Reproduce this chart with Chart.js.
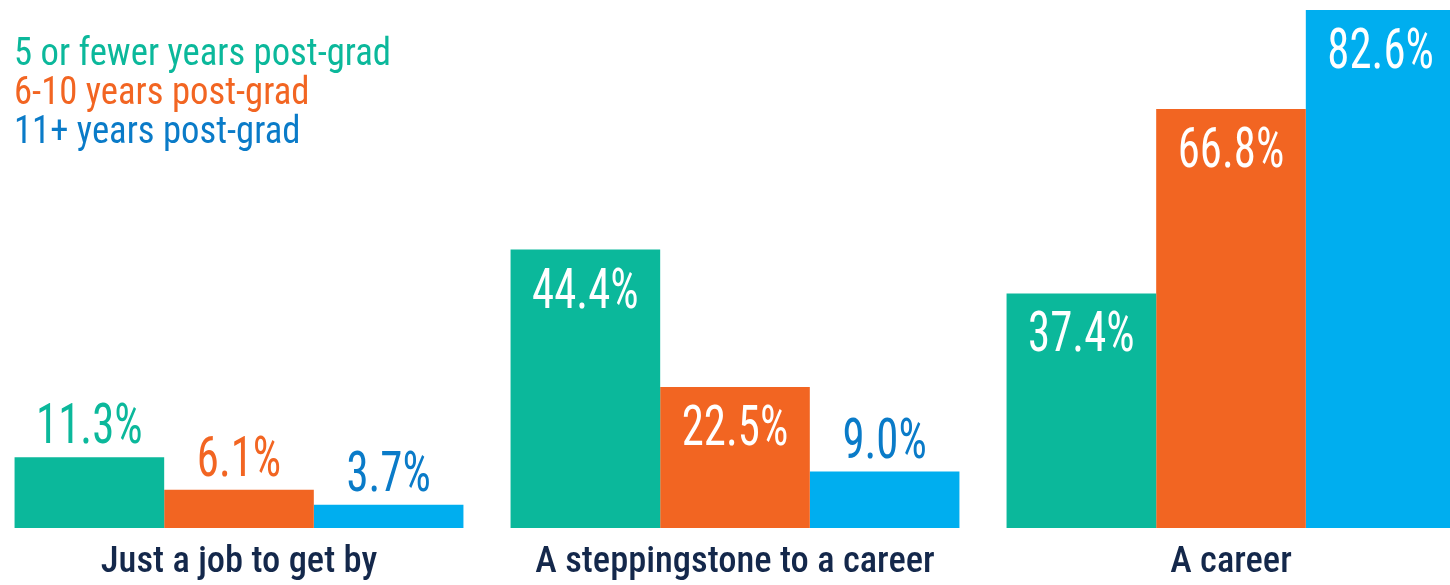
<!DOCTYPE html>
<html><head><meta charset="utf-8">
<script src="https://cdn.jsdelivr.net/npm/chart.js@4.4.0/dist/chart.umd.min.js"></script>
<style>
html,body{margin:0;padding:0;background:#fff;overflow:hidden;width:1450px;height:585px}
#wrap{position:absolute;left:-9px;top:0;width:1488px;height:585px}
</style></head><body>
<div id="wrap"><canvas id="c"></canvas></div>
<script>
const categories = ['Just a job to get by', 'A steppingstone to a career', 'A career'];
const seriesNames = ['5 or fewer years post-grad', '6-10 years post-grad', '11+ years post-grad'];
const fiveOrFewer = [11.3, 44.4, 37.4];
const sixToTen = [6.1, 22.5, 66.8];
const elevenPlus = [3.7, 9.0, 82.6];

const barColors = ['#0BB89B', '#F26522', '#00AEEF'];
const textColors = ['#0BB89B', '#F26522', '#0A7BC8'];
const FONT = "'Roboto Condensed','DejaVu Sans Condensed',sans-serif";

const valueLabels = {
  id: 'valueLabels',
  afterDatasetsDraw(chart) {
    const ctx = chart.ctx;
    ctx.save();
    ctx.font = '56px ' + FONT;
    ctx.textAlign = 'center';
    ctx.textBaseline = 'alphabetic';
    chart.data.datasets.forEach((ds, di) => {
      const meta = chart.getDatasetMeta(di);
      meta.data.forEach((bar, i) => {
        const v = ds.data[i];
        const txt = v.toFixed(1) + '%';
        const inside = v > 15;
        const y = inside ? bar.y + 58 : bar.y - 14;
        ctx.fillStyle = inside ? '#ffffff' : textColors[di];
        ctx.save();
        ctx.translate(bar.x, y);
        ctx.scale(0.8, 1);
        ctx.fillText(txt, 0, 0);
        ctx.restore();
      });
    });
    ctx.restore();
  }
};

const legendText = {
  id: 'legendText',
  afterDraw(chart) {
    const ctx = chart.ctx;
    ctx.save();
    ctx.font = '38px ' + FONT;
    ctx.textAlign = 'left';
    ctx.textBaseline = 'alphabetic';
    const baselines = [65, 104, 143];
    seriesNames.forEach((n, i) => {
      ctx.fillStyle = textColors[i];
      ctx.save();
      ctx.translate(9 + 14, baselines[i]);
      ctx.scale(0.965, 1);
      ctx.fillText(n, 0, 0);
      ctx.restore();
    });
    ctx.restore();
  }
};

new Chart(document.getElementById('c'), {
  type: 'bar',
  data: {
    labels: categories,
    datasets: [
      { label: seriesNames[0], data: fiveOrFewer, backgroundColor: barColors[0] },
      { label: seriesNames[1], data: sixToTen, backgroundColor: barColors[1] },
      { label: seriesNames[2], data: elevenPlus, backgroundColor: barColors[2] }
    ]
  },
  options: {
    responsive: true,
    maintainAspectRatio: false,
    animation: false,
    layout: { padding: 0 },
    datasets: { bar: { categoryPercentage: 0.905, barPercentage: 1.0, borderWidth: 0 } },
    plugins: { legend: { display: false }, tooltip: { enabled: false } },
    scales: {
      x: {
        grid: { display: false, drawTicks: false },
        border: { display: false },
        ticks: { color: '#14284B', font: { family: FONT, size: 36.5, weight: '500' }, padding: 13, maxRotation: 0 },
        afterFit(s) { s.height = 57; }
      },
      y: { display: false, min: 0, max: 84.2 }
    }
  },
  plugins: [valueLabels, legendText]
});
</script>
</body></html>
